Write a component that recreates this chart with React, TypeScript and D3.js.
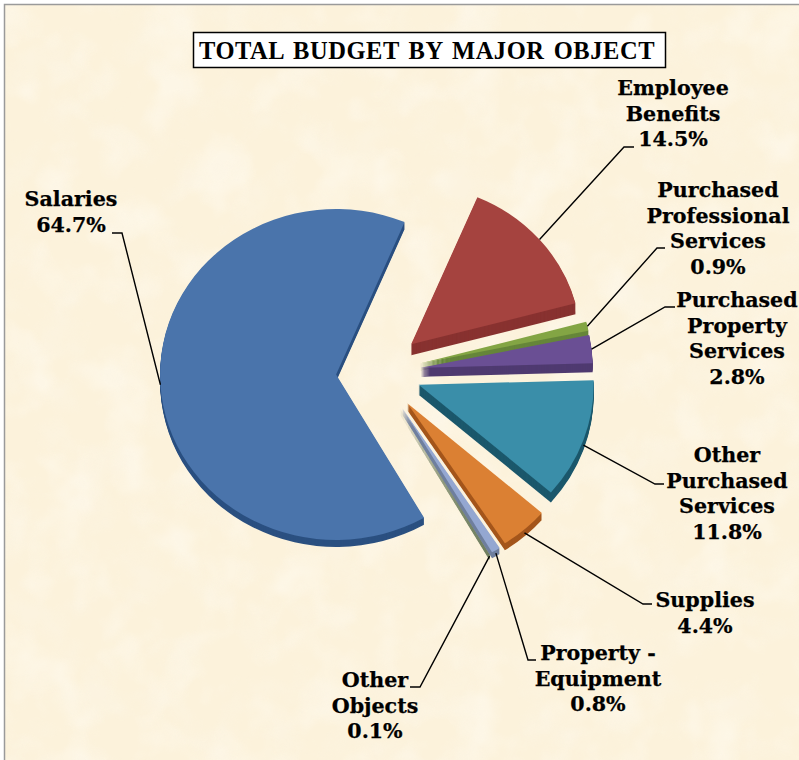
import React from "react";
import * as d3 from "d3";

const categories = ["Salaries", "Employee Benefits", "Purchased Professional Services", "Purchased Property Services", "Other Purchased Services", "Supplies", "Property - Equipment", "Other Objects"];
const values = [64.7, 14.5, 0.9, 2.8, 11.8, 4.4, 0.8, 0.1];
const labelLines = [["Salaries", "64.7%"], ["Employee", "Benefits", "14.5%"], ["Purchased", "Professional", "Services", "0.9%"], ["Purchased", "Property", "Services", "2.8%"], ["Other", "Purchased", "Services", "11.8%"], ["Supplies", "4.4%"], ["Property -", "Equipment", "0.8%"], ["Other", "Objects", "0.1%"]];
const topColors = ["#4a74ab", "#a5433f", "#83a544", "#6a4f94", "#3a8ea9", "#db8033", "#94a7d1", "#a8a89a"];
const sideColors = ["#2b5080", "#883230", "#66863a", "#4f3a70", "#1c586c", "#a4561c", "#6f7f9e", "#6f7f60"];
const labelX = [71, 673, 718, 737, 727, 705, 598, 375];
const labelY = [199, 88, 190, 300, 455, 600, 653, 680];
const elbows: [number, number][][] = [[[122, 233], [112, 233]], [[624, 147], [634, 147]], [[657, 248], [665, 248]], [[665, 307], [675, 307]], [[655, 484], [664, 484]], [[643, 604], [652, 604]], [[528, 660], [536, 660]], [[420, 687], [410, 687]]];
const radii = [176, 170, 172, 172, 175, 178, 178, 178];
const depths = [7, 11, 7, 9, 10, 7, 6, 6];
const nudges = [[-2, -2], [0, -5], [0, -2], [0, -2], [0, -2], [0, 1], [0, 2], [-1, 2]];
const explode = [43, 40, 40, 40, 40, 40, 40, 40];

const W = 799, H = 760, cx = 381, cy = 374, SY = 0.94;
const FONT = "'DejaVu Serif', serif";

const pie = d3.pie<number>().sort(null).startAngle((150 * Math.PI) / 180).endAngle((510 * Math.PI) / 180);
const arcs = pie(values);
const arcGen = d3.arc<d3.PieArcDatum<number>>().innerRadius(0);

const slices = arcs.map((a, i) => {
  const mid = (a.startAngle + a.endAngle) / 2;
  const e = explode[i];
  const r = radii[i];
  const x = cx + e * Math.sin(mid) + nudges[i][0];
  const y = cy - e * SY * Math.cos(mid) + nudges[i][1];
  const ay = y - r * SY * Math.cos(mid) + (Math.cos(mid) < -0.2 && i > 0 ? depths[i] / 2 : 0);
  return {
    a, i, x, y, r, mid,
    depth: depths[i],
    d: arcGen.outerRadius(r)(a) as string,
    anchor: [x + r * Math.sin(mid), ay] as [number, number],
  };
});
const drawOrder = [0, 1, 2, 3, 4, 7, 6, 5];
const line = d3.line();

export default function App() {
  return (
    <svg width={W} height={H} style={{ position: "absolute", left: 0, top: 0 }} role="img" aria-label={categories.join(", ")}>
      <defs>
        <filter id="parchLight" x="0" y="0" width="100%" height="100%">
          <feTurbulence type="fractalNoise" baseFrequency="0.02" numOctaves={3} seed={4} />
          <feColorMatrix type="matrix" values="0 0 0 0 1  0 0 0 0 0.975  0 0 0 0 0.91  3 0 0 0 -1.4" />
        </filter>
        <filter id="parchDark" x="0" y="0" width="100%" height="100%">
          <feTurbulence type="fractalNoise" baseFrequency="0.025" numOctaves={3} seed={11} />
          <feColorMatrix type="matrix" values="0 0 0 0 0.97  0 0 0 0 0.91  0 0 0 0 0.78  3 0 0 0 -1.4" />
        </filter>
      </defs>
      <rect x={0} y={0} width={W} height={H} fill="#ffffff" />
      <rect x={5} y={5} width={W} height={H} fill="#fcf2db" />
      <rect x={5} y={5} width={W} height={H} filter="url(#parchLight)" opacity={0.45} />
      <rect x={5} y={5} width={W} height={H} filter="url(#parchDark)" opacity={0.4} />
      <path d={`M4.5,${H} V4.5 H${W}`} fill="none" stroke="#9a9a9a" strokeWidth={1.5} />

      {drawOrder.map((k) => {
        const s = slices[k];
        const tf = (dy: number) => `translate(${s.x},${s.y + dy}) scale(1,${SY})`;
        return (
          <g key={k}>
            {d3.range(s.depth, 0, -1).map((dy) => (
              <path key={dy} d={s.d} transform={tf(dy)} fill={sideColors[k]} />
            ))}
            <path d={s.d} transform={tf(0)} fill={topColors[k]} />
          </g>
        );
      })}

      {slices.map((s, i) => (
        <path key={i} d={line([s.anchor, ...elbows[i]]) as string} fill="none" stroke="#000" strokeWidth={1.4} />
      ))}

      {labelLines.map((lines, i) => (
        <text key={i} x={labelX[i]} textAnchor="middle" fontFamily={FONT} fontWeight="bold" fontSize={20.6} stroke="#000" strokeWidth={0.25} fill="#000">
          {lines.map((t, j) => (
            <tspan key={j} x={labelX[i]} y={labelY[i] + j * 25.5} dy="0.36em">{t}</tspan>
          ))}
        </text>
      ))}

      <rect x={193.5} y={32.5} width={472} height={35} fill="#fff" stroke="#000" strokeWidth={1.5} />
      <text x={427} y={59} textAnchor="middle" fontFamily="'Liberation Serif', serif" fontWeight="bold" fontSize={24.5} letterSpacing={0.55} wordSpacing={2.5} fill="#000">TOTAL BUDGET BY MAJOR OBJECT</text>
    </svg>
  );
}
